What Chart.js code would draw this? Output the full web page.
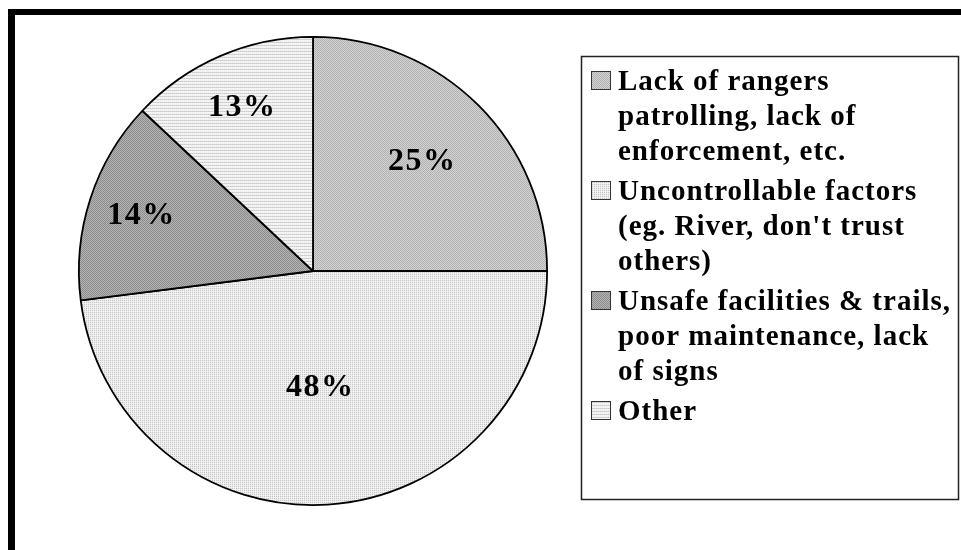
<!DOCTYPE html>
<html>
<head>
<meta charset="utf-8">
<script src="https://cdn.jsdelivr.net/npm/chart.js@4/dist/chart.umd.min.js"></script>
<style>
    body { margin: 0; background: #fff; }
    #wrap { position: relative; width: 961px; height: 550px; overflow: hidden; }
    #frame {
        position: absolute; left: 8px; top: 9px; width: 1000px; height: 600px;
        border-top: 6px solid #000; border-left: 7px solid #000;
    }
    canvas { position: absolute; left: 0; top: 0; }
</style>
</head>
<body>
<div id="wrap">
    <div id="frame"></div>
    <canvas id="chart-pie" width="961" height="550"></canvas>
</div>
<script>
// Slice labels and values
const LABELS = [
    ['Lack of rangers', 'patrolling, lack of', 'enforcement, etc.'],
    ['Uncontrollable factors', "(eg. River, don't trust", 'others)'],
    ['Unsafe facilities & trails,', 'poor maintenance, lack', 'of signs'],
    ['Other'],
];
const VALUES = [25, 48, 14, 13];

// how far out (fraction of radius) each percentage sits
const LABEL_RADIUS = [0.66, 0.5, 0.77, 0.76];

// small dithered fills, like the old Excel patterns
function makePattern(rows) {
    const c = document.createElement('canvas');
    c.width = rows[0].length;
    c.height = rows.length;
    const g = c.getContext('2d');
    rows.forEach((row, y) => row.forEach((col, x) => {
        g.fillStyle = col;
        g.fillRect(x, y, 1, 1);
    }));
    return g.createPattern(c, 'repeat');
}

const FILLS = [
    makePattern([['#b0b0b0', '#d4d4d4'], ['#d4d4d4', '#b0b0b0']]),
    makePattern([['#c4c4c4', '#eeeeee'], ['#eeeeee', '#f2f2f2']]),
    makePattern([['#8c8c8c', '#b4b4b4'], ['#b4b4b4', '#8c8c8c']]),
    makePattern([['#cacaca', '#d8d8d8'], ['#f4f4f4', '#f4f4f4'], ['#f0f0f0', '#f4f4f4']]),
];

const sliceLabels = {
    id: 'sliceLabels',
    afterDatasetsDraw(chart, args, opts) {
        const ctx = chart.ctx;
        const meta = chart.getDatasetMeta(0);
        ctx.save();
        ctx.font = opts.font;
        ctx.letterSpacing = '1.5px';
        ctx.fillStyle = '#000';
        ctx.textAlign = 'center';
        ctx.textBaseline = 'middle';
        meta.data.forEach((arc, i) => {
            const mid = (arc.startAngle + arc.endAngle) / 2;
            const r = arc.outerRadius * LABEL_RADIUS[i];
            ctx.fillText(VALUES[i] + '%', arc.x + Math.cos(mid) * r, arc.y + Math.sin(mid) * r);
        });
        ctx.restore();
    },
};

const boxLegend = {
    id: 'boxLegend',
    afterDraw(chart, args, opts) {
        const ctx = chart.ctx;
        ctx.save();
        ctx.strokeStyle = '#222';
        ctx.lineWidth = 1.5;
        ctx.strokeRect(581.5, 56.5, 377, 443);
        ctx.font = opts.font;
        ctx.letterSpacing = '1px';
        ctx.textBaseline = 'alphabetic';
        let y = opts.top;
        chart.data.labels.forEach((lines, i) => {
            ctx.fillStyle = FILLS[i];
            ctx.fillRect(591, y - 19, 20, 19);
            ctx.lineWidth = 1;
            ctx.strokeStyle = '#333';
            ctx.strokeRect(591.5, y - 18.5, 19, 18);
            ctx.fillStyle = '#000';
            lines.forEach(line => {
                ctx.fillText(line, 618, y);
                y += opts.lineGap;
            });
            y += opts.itemGap - opts.lineGap;
        });
        ctx.restore();
    },
};

new Chart(document.getElementById('chart-pie'), {
    type: 'pie',
    data: {
        labels: LABELS,
        datasets: [{
            data: VALUES,
            backgroundColor: FILLS,
            borderColor: '#000',
            borderWidth: 1.8,
        }],
    },
    options: {
        responsive: false,
        devicePixelRatio: 1,
        animation: false,
        layout: { padding: { left: 78, right: 413, top: 36, bottom: 44 } },
        plugins: {
            legend: { display: false },
            tooltip: { enabled: false },
            sliceLabels: { font: 'bold 32px "Liberation Serif"' },
            boxLegend: { font: 'bold 29px "Liberation Serif"', top: 90, lineGap: 35, itemGap: 40 },
        },
    },
    plugins: [sliceLabels, boxLegend],
});
</script>
</body>
</html>
